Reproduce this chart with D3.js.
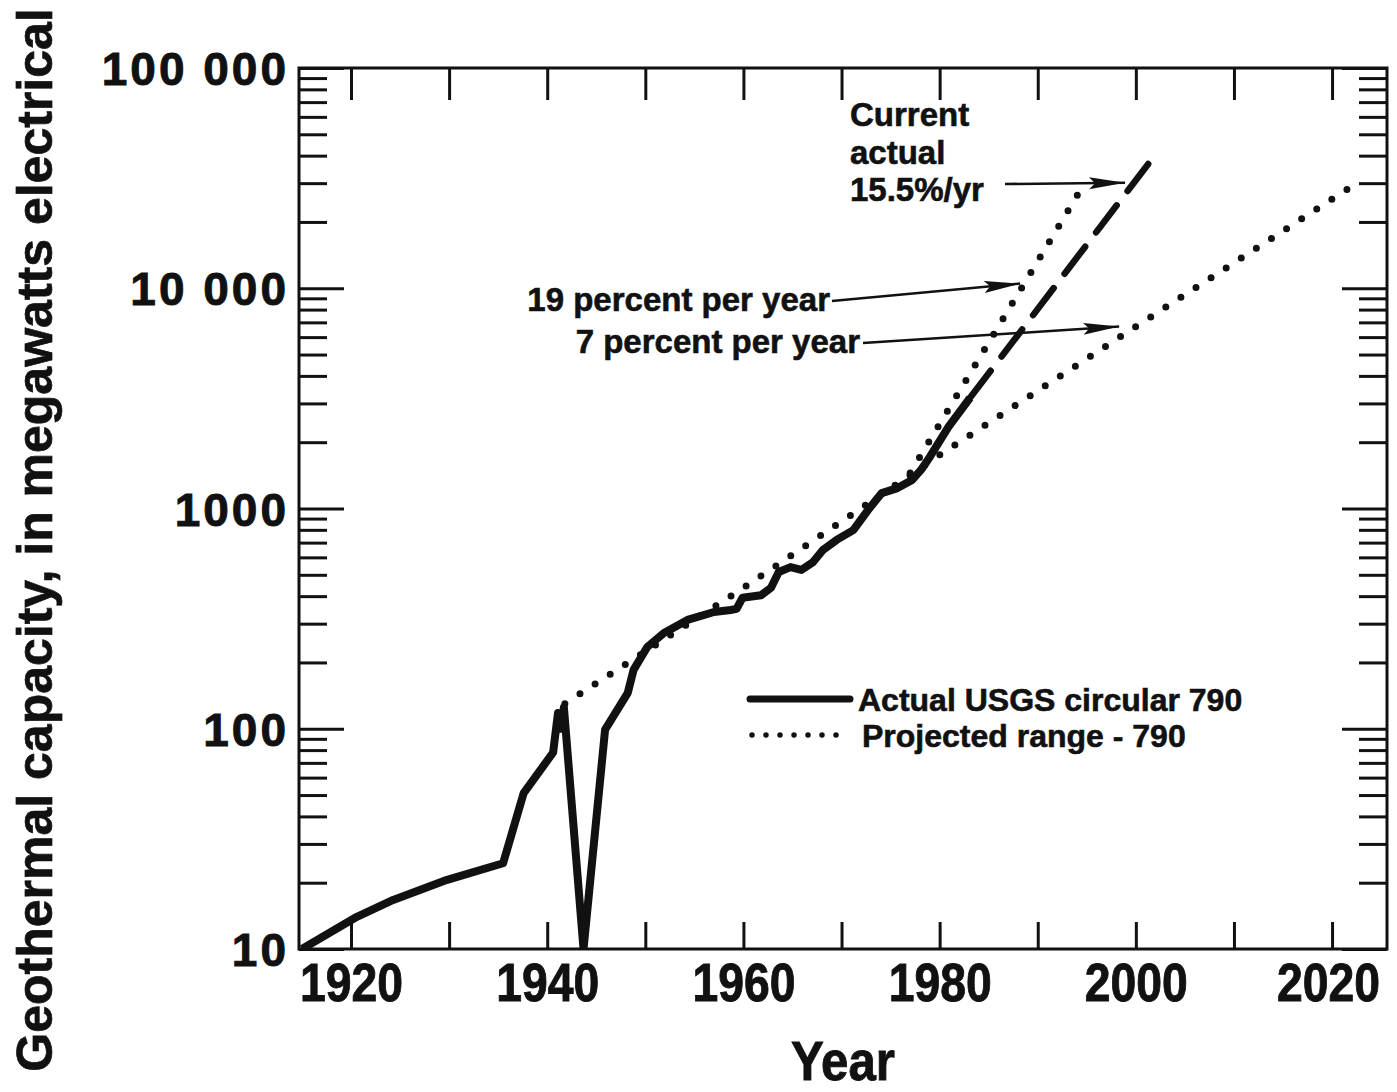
<!DOCTYPE html>
<html>
<head>
<meta charset="utf-8">
<script src="https://cdn.jsdelivr.net/npm/d3@7"></script>
<style>
  body { margin: 0; background: #fff; }
  text { font-family: "Liberation Sans", Arial, Helvetica, sans-serif; font-weight: bold; fill: #111; }
  .heavy { stroke: #111; stroke-width: 0.9; }
</style>
</head>
<body>
<div id="chart"></div>
<script>
// Geothermal capacity chart (log scale)

// Actual USGS circular 790 (solid)
var actualYears = [1915, 1920.6, 1924.3, 1929.8, 1935.5, 1937.6, 1940.6, 1941.1, 1941.4, 1941.7, 1943.7,
  1945.9, 1948.2, 1948.8, 1950.2, 1951.9, 1954.3, 1957.0, 1958.7, 1959.3, 1959.9, 1961.8, 1962.8,
  1963.6, 1964.8, 1965.9, 1967.1, 1968.1, 1969.5, 1971.2, 1972.7, 1974.1, 1975.7, 1977.2, 1978.1,
  1979.0, 1980.9, 1983.1];
var actualMW = [10, 14.0, 16.7, 20.6, 24.5, 51, 78, 118, 100, 125, 10,
  99, 145, 185, 235, 272, 312, 339, 346, 350, 393, 404, 436,
  515, 542, 526, 571, 648, 720, 798, 984, 1175, 1238, 1348, 1497,
  1714, 2345, 3180];

// Current actual 15.5%/yr (dashed)
var currentYears = [1983.1, 2002.2];
var currentMW = [3180, 41600];

// Projected range - 790 (dotted): 7 percent per year and 19 percent per year
var sevenYears = [1941.8, 1960, 1980, 2000, 2022.5];
var sevenMW = [130, 436, 1750, 6700, 30000];
var nineteenYears = [1977, 1994.8];
var nineteenMW = [1450, 30100];

// Axis ticks
var xTickYears = [1920, 1930, 1940, 1950, 1960, 1970, 1980, 1990, 2000, 2010, 2020];
var xLabelYears = [1920, 1940, 1960, 1980, 2000, 2020];
var yMajorValues = [10, 100, 1000, 10000, 100000];
var yTickLabels = ["10", "100", "1000", "10 000", "100 000"];

var svgWidth = 1397;
var svgHeight = 1092;

var margin = { top: 68, right: 10, bottom: 143, left: 299 };
var width = 1387 - margin.left;
var height = 949 - margin.top;

var svg = d3.select("#chart")
  .append("svg")
  .attr("width", svgWidth)
  .attr("height", svgHeight);

var chartGroup = svg.append("g")
  .attr("transform", `translate(${margin.left}, ${margin.top})`);

// Scales
var xScale = d3.scaleLinear()
  .domain([1914.7, 2025.6])
  .range([0, width]);

var yScale = d3.scaleLog()
  .domain([10, 100000])
  .range([height, 0]);

// minor log ticks 20..90 000
var yMinorValues = [];
yMajorValues.slice(0, 4).forEach(function(d) {
  for (var k = 2; k <= 9; k++) yMinorValues.push(d * k);
});

function styleTicks(g) {
  g.select(".domain").remove();
  g.selectAll(".tick line").attr("stroke", "#111").attr("stroke-width", 3);
}

// Bottom axis with labels every 20 years (condensed by textLength)
chartGroup.append("g")
  .attr("transform", `translate(0, ${height})`)
  .call(d3.axisBottom(xScale)
    .tickValues(xTickYears)
    .tickSize(-27)
    .tickPadding(13)
    .tickFormat(function(d) { return xLabelYears.indexOf(d) >= 0 ? d : ""; }))
  .call(styleTicks)
  .selectAll("text")
    .attr("class", "heavy")
    .attr("font-size", 53)
    .attr("textLength", function(d) { return xLabelYears.indexOf(d) >= 0 ? 103 : null; })
    .attr("lengthAdjust", "spacingAndGlyphs")
    .attr("dx", function(d) { return d === 2020 ? -4 : 0; })
    .attr("dy", "0.74em");

// Top axis, ticks only
chartGroup.append("g")
  .call(d3.axisTop(xScale).tickValues(xTickYears).tickSize(-32).tickFormat(""))
  .call(styleTicks);

// Left axis: minor + major ticks, labels on the decades
chartGroup.append("g")
  .call(d3.axisLeft(yScale).tickValues(yMinorValues).tickSize(-28).tickFormat(""))
  .call(styleTicks);

chartGroup.append("g")
  .call(d3.axisLeft(yScale)
    .tickValues(yMajorValues)
    .tickSize(-45)
    .tickPadding(10)
    .tickFormat(function(d, i) { return yTickLabels[i]; }))
  .call(styleTicks)
  .selectAll("text")
    .attr("class", "heavy")
    .attr("font-size", 46)
    .attr("letter-spacing", 3)
    .attr("dy", "0.36em");

// Right axis, ticks only
chartGroup.append("g")
  .attr("transform", `translate(${width}, 0)`)
  .call(d3.axisRight(yScale).tickValues(yMinorValues).tickSize(-28).tickFormat(""))
  .call(styleTicks);

chartGroup.append("g")
  .attr("transform", `translate(${width}, 0)`)
  .call(d3.axisRight(yScale).tickValues(yMajorValues).tickSize(-45).tickFormat(""))
  .call(styleTicks);

// Frame
chartGroup.append("rect")
  .attr("width", width)
  .attr("height", height)
  .attr("fill", "none")
  .attr("stroke", "#111")
  .attr("stroke-width", 3);

// Lines
var line = d3.line()
  .x(function(d) { return xScale(d[0]); })
  .y(function(d) { return yScale(d[1]); });

chartGroup.append("clipPath").attr("id", "plot-clip")
  .append("rect").attr("x", -4).attr("y", -4).attr("width", width + 8).attr("height", height + 4);

var lines = chartGroup.append("g").attr("clip-path", "url(#plot-clip)");

lines.append("path")
  .attr("d", line(d3.zip(sevenYears, sevenMW)))
  .attr("fill", "none")
  .attr("stroke", "#111")
  .attr("stroke-width", 7)
  .attr("stroke-linecap", "round")
  .attr("stroke-dasharray", "0,18");

lines.append("path")
  .attr("d", line(d3.zip(nineteenYears, nineteenMW)))
  .attr("fill", "none")
  .attr("stroke", "#111")
  .attr("stroke-width", 7)
  .attr("stroke-linecap", "round")
  .attr("stroke-dasharray", "0,18");

lines.append("path")
  .attr("d", line(d3.zip(currentYears, currentMW)))
  .attr("fill", "none")
  .attr("stroke", "#111")
  .attr("stroke-width", 6.5)
  .attr("stroke-linecap", "round")
  .attr("stroke-dasharray", "34,18");

lines.append("path")
  .attr("d", line(d3.zip(actualYears, actualMW)))
  .attr("fill", "none")
  .attr("stroke", "#111")
  .attr("stroke-width", 8)
  .attr("stroke-linejoin", "round");

// Arrow marker
svg.append("defs").append("marker")
  .attr("id", "arrow")
  .attr("markerUnits", "userSpaceOnUse")
  .attr("viewBox", "0 -7 36 14")
  .attr("refX", 36)
  .attr("refY", 0)
  .attr("markerWidth", 36)
  .attr("markerHeight", 14)
  .attr("orient", "auto")
  .append("path")
  .attr("d", "M0,-6L36,0L0,6L6,0Z")
  .attr("fill", "#111");

// Annotations (text placed in pixels, arrow tips on the data)
var notes = [
  { lines: ["Current", "actual", "15.5%/yr"], x: 850, y: 126, anchor: "start",
    from: [1005, 184], tip: [1998.9, 30100] },
  { lines: ["19 percent per year"], x: 830, y: 311, anchor: "end",
    from: [832, 301], tip: [1988.2, 10500] },
  { lines: ["7 percent per year"], x: 860, y: 353, anchor: "end",
    from: [863, 343], tip: [1998.3, 6700] }
];

notes.forEach(function(n) {
  var t = svg.append("text")
    .attr("class", "heavy")
    .attr("x", n.x)
    .attr("y", n.y)
    .attr("text-anchor", n.anchor)
    .attr("font-size", 33)
    .style("stroke-width", 0.6);
  n.lines.forEach(function(s, i) {
    t.append("tspan").attr("x", n.x).attr("dy", i === 0 ? 0 : 37.5).text(s);
  });
  svg.append("line")
    .attr("x1", n.from[0])
    .attr("y1", n.from[1])
    .attr("x2", margin.left + xScale(n.tip[0]))
    .attr("y2", margin.top + yScale(n.tip[1]))
    .attr("stroke", "#111")
    .attr("stroke-width", 2.5)
    .attr("marker-end", "url(#arrow)");
});

// Legend
var legend = svg.append("g");
legend.append("line")
  .attr("x1", 750).attr("x2", 850).attr("y1", 699).attr("y2", 699)
  .attr("stroke", "#111").attr("stroke-width", 7).attr("stroke-linecap", "round");
legend.append("text")
  .attr("class", "heavy").style("stroke-width", 0.6)
  .attr("x", 858).attr("y", 711).attr("font-size", 32)
  .text("Actual USGS circular 790");
legend.append("line")
  .attr("x1", 752).attr("x2", 850).attr("y1", 735).attr("y2", 735)
  .attr("stroke", "#111").attr("stroke-width", 5.5).attr("stroke-linecap", "round")
  .attr("stroke-dasharray", "0,14");
legend.append("text")
  .attr("class", "heavy").style("stroke-width", 0.6)
  .attr("x", 862).attr("y", 747).attr("font-size", 32)
  .text("Projected range - 790");

// Axis titles
svg.append("text")
  .attr("class", "heavy")
  .attr("x", margin.left + width / 2)
  .attr("y", 1080)
  .attr("text-anchor", "middle")
  .attr("font-size", 56)
  .attr("textLength", 104)
  .attr("lengthAdjust", "spacingAndGlyphs")
  .text("Year");

svg.append("text")
  .attr("class", "heavy")
  .style("stroke-width", 0.7)
  .attr("transform", "translate(52, 540) rotate(-90)")
  .attr("text-anchor", "middle")
  .attr("font-size", 50)
  .text("Geothermal capacity, in megawatts electrical");
</script>
</body>
</html>
